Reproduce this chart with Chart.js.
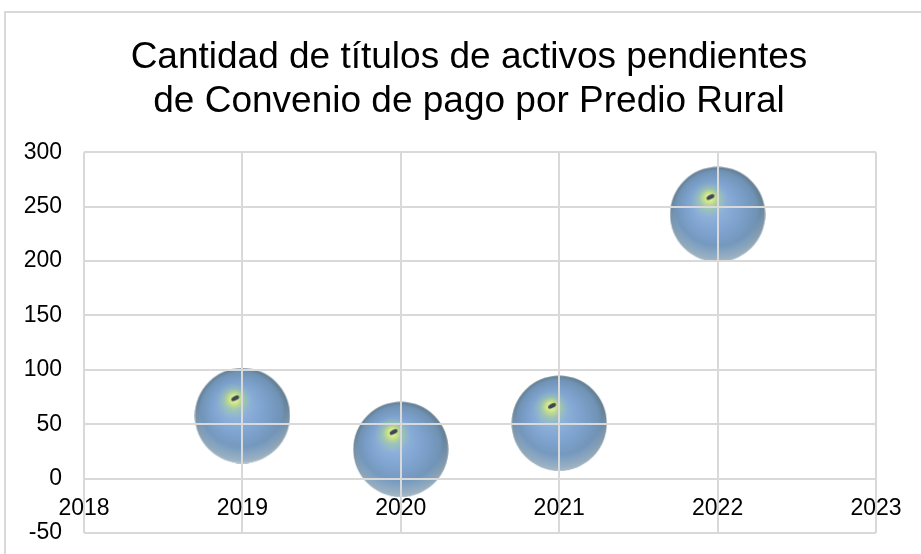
<!DOCTYPE html>
<html>
<head>
<meta charset="utf-8">
<script src="https://cdn.jsdelivr.net/npm/chart.js@4.4.1/dist/chart.umd.min.js"></script>
<style>
  html, body { margin: 0; padding: 0; background: #fff; }
  #frame {
    position: absolute; left: 4px; top: 11px; width: 930px; height: 560px;
    border-top: 2px solid #d9d9d9; border-left: 2px solid #d9d9d9;
  }
  #wrap { position: absolute; left: 0; top: 0; width: 921px; height: 554px; }
</style>
</head>
<body>
<div id="frame"></div>
<div id="wrap"><canvas id="myChart"></canvas></div>
<script>
const years = [2019, 2020, 2021, 2022];
const pending = [58, 27, 51, 243];
const bubbleSizes = [48, 48, 48, 48];
const xTicks = [2018, 2019, 2020, 2021, 2022, 2023];
const yTicks = [-50, 0, 50, 100, 150, 200, 250, 300];

// shaded sphere drawn once and used as the point style
const makeSphere = (r) => {
  const c = document.createElement("canvas");
  c.width = c.height = r * 2;
  const g = c.getContext("2d");
  g.beginPath();
  g.arc(r, r, r - 0.5, 0, Math.PI * 2);
  g.clip();
  let grad = g.createRadialGradient(r * 0.8, r * 0.7, r * 0.05, r, r, r);
  grad.addColorStop(0, "#9dbde4");
  grad.addColorStop(0.5, "#7fa4d0");
  grad.addColorStop(0.85, "#7093b5");
  grad.addColorStop(1, "#62798a");
  g.fillStyle = grad;
  g.fillRect(0, 0, r * 2, r * 2);
  // light rim at the bottom
  grad = g.createRadialGradient(r, r * 0.75, r * 0.9, r, r * 0.75, r * 1.3);
  grad.addColorStop(0, "rgba(190,210,225,0)");
  grad.addColorStop(1, "rgba(200,218,230,0.8)");
  g.fillStyle = grad;
  g.fillRect(0, 0, r * 2, r * 2);
  // yellow-green glare
  grad = g.createRadialGradient(r * 0.83, r * 0.64, 0, r * 0.83, r * 0.7, r * 0.38);
  grad.addColorStop(0, "rgba(255,255,255,0.95)");
  grad.addColorStop(0.25, "rgba(215,235,120,0.9)");
  grad.addColorStop(0.6, "rgba(170,215,120,0.35)");
  grad.addColorStop(1, "rgba(150,205,150,0)");
  g.fillStyle = grad;
  g.fillRect(0, 0, r * 2, r * 2);
  g.fillStyle = "#3c4a50";
  g.beginPath();
  g.ellipse(r * 0.85, r * 0.64, r * 0.09, r * 0.045, -0.5, 0, Math.PI * 2);
  g.fill();
  return c;
};
const sphere = makeSphere(48);

const ctx = document.getElementById("myChart");
new Chart(ctx, {
  type: "bubble",
  data: {
    datasets: [
      {
        label: "Cantidad",
        data: years.map((x, i) => ({ x: x, y: pending[i], r: bubbleSizes[i] })),
        pointStyle: sphere,
        backgroundColor: "#7fa5d4",
        borderWidth: 0,
        clip: false
      }
    ]
  },
  options: {
    responsive: true,
    maintainAspectRatio: false,
    animation: false,
    layout: { autoPadding: false, padding: { top: 14, left: 17, right: 0, bottom: 21 } },
    plugins: {
      legend: { display: false },
      tooltip: { enabled: false },
      title: {
        display: true,
        text: ["Cantidad de títulos de activos pendientes", "de Convenio de pago por Predio Rural"],
        color: "#000",
        font: { family: "'Liberation Sans', Arial, sans-serif", size: 37, weight: "normal", lineHeight: 1.18 },
        padding: { top: 22, bottom: 29 }
      }
    },
    scales: {
      x: {
        type: "linear",
        position: { y: 0 },
        min: 2018,
        max: 2023,
        afterBuildTicks: (axis) => { axis.ticks = xTicks.map(v => ({ value: v })); },
        afterFit: (axis) => { axis.height = 0; axis.paddingLeft = 0; axis.paddingRight = 45; },
        ticks: {
          color: "#000",
          padding: 16,
          z: 2,
          font: { family: "'Liberation Sans', Arial, sans-serif", size: 23 },
          callback: (v) => String(v)
        },
        // grid sits over the bubbles like in the original
        grid: { color: "#d9d9d9", lineWidth: 2, drawTicks: false, z: 1 },
        border: { display: false }
      },
      y: {
        min: -50,
        max: 300,
        afterBuildTicks: (axis) => { axis.ticks = yTicks.map(v => ({ value: v })); },
        afterFit: (axis) => { axis.width = 67; axis.paddingTop = 0; axis.paddingBottom = 0; },
        ticks: {
          color: "#000",
          padding: 22,
          z: 2,
          font: { family: "'Liberation Sans', Arial, sans-serif", size: 23 }
        },
        grid: { color: "#d9d9d9", lineWidth: 2, drawTicks: false, z: 1 },
        border: { display: false }
      }
    }
  }
});
</script>
</body>
</html>
